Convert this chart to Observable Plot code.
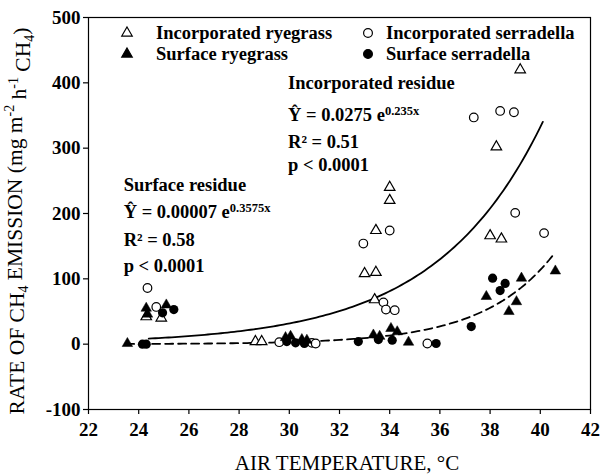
<!DOCTYPE html>
<html><head><meta charset="utf-8">
<script src="https://cdn.jsdelivr.net/npm/d3@7"></script>
<script src="https://cdn.jsdelivr.net/npm/@observablehq/plot@0.6"></script>
<style>
body{margin:0;background:#fff}
#chart{position:relative;width:605px;height:476px}
</style>
</head><body><div id="chart"></div>
<script>
// Tick labels
const xTicks = [22, 24, 26, 28, 30, 32, 34, 36, 38, 40, 42];
const yTicks = [-100, 0, 100, 200, 300, 400, 500];

// Incorporated ryegrass (open triangles)
const incRyeT = [24.3, 24.9, 28.65, 28.9, 33.0, 33.45, 33.4, 33.45, 34.0, 34.0, 38.0, 38.45, 38.25, 39.2];
const incRyeV = [42, 40, 4, 4, 108, 110, 68, 174, 240, 220, 166, 161, 302, 420];

// Incorporated serradella (open circles)
const incSerT = [24.35, 24.7, 29.6, 30.9, 31.05, 32.95, 34.0, 33.75, 33.85, 34.2, 35.5, 37.35, 38.4, 38.95, 39.0, 40.15];
const incSerV = [86, 57, 3, 2, 1, 154, 174, 64, 53, 52, 1, 347, 357, 355, 201, 170];

// Surface ryegrass (filled triangles)
const surRyeT = [23.55, 24.3, 24.35, 25.1, 29.85, 30.05, 30.5, 30.7, 33.35, 33.6, 34.05, 34.3, 34.75, 37.85, 38.75, 39.05, 39.25, 40.6];
const surRyeV = [1, 55, 46, 60, 10, 12, 7, 6, 14, 12, 24, 19, 3, 73, 50, 65, 101, 112];

// Surface serradella (filled circles)
const surSerT = [24.15, 24.3, 24.95, 25.4, 29.9, 30.25, 30.6, 32.75, 33.55, 34.1, 35.85, 37.25, 38.1, 38.6, 38.4];
const surSerV = [0, 0, 48, 53, 4, 2, 1, 4, 7, 6, 1, 27, 101, 93, 82];

// Fitted models as printed on the chart
const incModel = {a: 0.0275, b: 0.235, from: 24.4, to: 40.1};
const surModel = {a: 0.00007, b: 0.3575, from: 23.5, to: 40.5};

// Annotations (text, x in °C, y in rate units)
const incLabels = ["Incorporated residue", "Ŷ = 0.0275 e|0.235x", "R² = 0.51", "p < 0.0001"];
const incLabelY = [399, 350, 309, 274];
const incLabelX = 29.95;
const surLabels = ["Surface residue", "Ŷ = 0.00007 e|0.3575x", "R² = 0.58", "p < 0.0001"];
const surLabelY = [243, 202, 159, 120];
const surLabelX = 23.4;

const legendNames = ["Incorporated ryegrass", "Surface ryegrass", "Incorporated serradella", "Surface serradella"];

const pts = (T, V) => T.map((t, i) => ({t, v: V[i]}));
const curve = m => d3.range(m.from, m.to + 1e-9, (m.to - m.from) / 120).map(t => ({t, v: m.a * Math.exp(m.b * t)}));
const ann = (L, Y, X) => L.map((s, i) => ({s, x: X, y: Y[i]}));

const font = "Liberation Serif, Times New Roman, serif";

const plot = Plot.plot({
  width: 605, height: 476,
  marginLeft: 88, marginRight: 15, marginTop: 17, marginBottom: 67,
  style: {fontFamily: font, color: "black", background: "white"},
  x: {domain: [22, 42]},
  y: {domain: [-100, 500]},
  marks: [
    Plot.frame({stroke: "black", strokeWidth: 1.2}),
    Plot.axisX({ticks: xTicks, tickSize: 5, label: null, strokeWidth: 1.2, tickFormat: () => ""}),
    Plot.axisY({ticks: yTicks, tickSize: 5, label: null, strokeWidth: 1.2, tickFormat: () => ""}),
    Plot.text(xTicks, {x: d => d, frameAnchor: "bottom", dy: 26, text: d => String(d), fontSize: 19, fontWeight: "bold", fill: "black"}),
    Plot.text(yTicks, {y: d => d, frameAnchor: "left", dx: -8, textAnchor: "end", text: d => String(d), fontSize: 19, fontWeight: "bold", fill: "black"}),
    Plot.line(curve(incModel), {x: "t", y: "v", stroke: "black", strokeWidth: 1.8}),
    Plot.line(curve(surModel), {x: "t", y: "v", stroke: "black", strokeWidth: 1.8, strokeDasharray: "8,5"}),
    Plot.dot(pts(incRyeT, incRyeV), {x: "t", y: "v", symbol: "triangle", r: 3.9, stroke: "black", fill: "white", strokeWidth: 1.2}),
    Plot.dot(pts(incSerT, incSerV), {x: "t", y: "v", symbol: "circle", r: 4.3, stroke: "black", fill: "white", strokeWidth: 1.2}),
    Plot.dot(pts(surRyeT, surRyeV), {x: "t", y: "v", symbol: "triangle", r: 3.9, fill: "black", stroke: "black", strokeWidth: 0.5}),
    Plot.dot(pts(surSerT, surSerV), {x: "t", y: "v", symbol: "circle", r: 4.6, fill: "black"}),
    Plot.text(ann(incLabels, incLabelY, incLabelX), {x: "x", y: "y", text: "s", textAnchor: "start", fontSize: 18.5, fontWeight: "bold", fill: "black"}),
    Plot.text(ann(surLabels, surLabelY, surLabelX), {x: "x", y: "y", text: "s", textAnchor: "start", fontSize: 18.5, fontWeight: "bold", fill: "black"})
  ]
});

const svg = d3.select(plot);

// superscripts for exponents
svg.selectAll("text").each(function() {
  const el = this;
  if (el.childElementCount === 0 && el.textContent.includes("|")) {
    const [base, sup] = el.textContent.split("|");
    el.textContent = "";
    const s = d3.select(el);
    s.append("tspan").text(base);
    s.append("tspan").attr("dy", "-0.5em").attr("font-size", 12.5).text(sup);
  }
});

// legend
const lg = svg.append("g").attr("font-family", font).attr("font-size", 18.5).attr("font-weight", "bold")
  .attr("fill", "black").attr("text-anchor", "start");
const legendItems = [
  {name: legendNames[0], sym: d3.symbolTriangle, filled: false, x: 127, y: 33},
  {name: legendNames[1], sym: d3.symbolTriangle, filled: true, x: 127, y: 54},
  {name: legendNames[2], sym: d3.symbolCircle, filled: false, x: 368, y: 33},
  {name: legendNames[3], sym: d3.symbolCircle, filled: true, x: 368, y: 54}
];
legendItems.forEach(d => {
  const size = d.sym === d3.symbolCircle ? Math.PI * 4.4 * 4.4 : Math.PI * 3.9 * 3.9;
  lg.append("path").attr("d", d3.symbol(d.sym, size)()).attr("transform", `translate(${d.x},${d.y})`)
    .attr("fill", d.filled ? "black" : "white").attr("stroke", "black").attr("stroke-width", 1.2);
  lg.append("text").attr("x", d.x + (d.sym === d3.symbolCircle ? 18 : 29)).attr("y", d.y).attr("dy", "0.35em").text(d.name);
});

// axis titles
const yl = svg.append("text").attr("transform", "translate(24,221) rotate(-90)").attr("text-anchor", "middle")
  .attr("font-family", font).attr("font-size", 21.5).attr("fill", "black");
yl.append("tspan").text("RATE OF CH");
yl.append("tspan").attr("font-size", 14).attr("dy", "0.3em").text("4");
yl.append("tspan").attr("dy", "-0.3em").text(" EMISSION (mg m");
yl.append("tspan").attr("font-size", 14).attr("dy", "-0.55em").text("-2");
yl.append("tspan").attr("dy", "0.55em").text(" h");
yl.append("tspan").attr("font-size", 14).attr("dy", "-0.55em").text("-1");
yl.append("tspan").attr("dy", "0.55em").text(" CH");
yl.append("tspan").attr("font-size", 14).attr("dy", "0.3em").text("4");
yl.append("tspan").attr("dy", "-0.3em").text(")");

svg.append("text").attr("x", 347).attr("y", 463).attr("dy", "0.35em").attr("text-anchor", "middle")
  .attr("font-family", font).attr("font-size", 21).attr("fill", "black").text("AIR TEMPERATURE, °C");

document.getElementById("chart").appendChild(plot);
</script>
</body></html>
